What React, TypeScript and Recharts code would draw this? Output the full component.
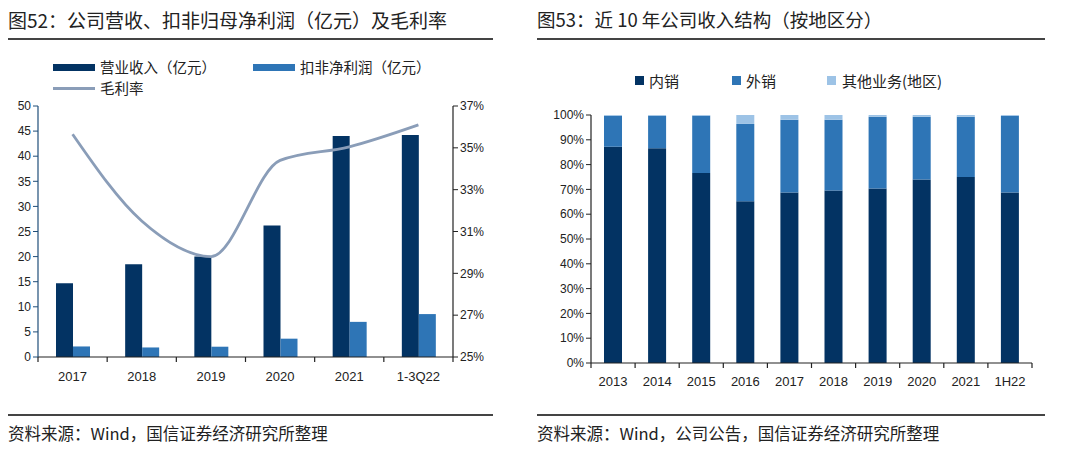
import { ComposedChart, BarChart, Bar, Line, XAxis, YAxis } from 'recharts';

// 图52 data
const periods = ['2017', '2018', '2019', '2020', '2021', '1-3Q22'];
const revenue = [14.7, 18.5, 20.0, 26.2, 44.0, 44.2];
const netProfit = [2.1, 1.9, 2.05, 3.65, 7.0, 8.55];
const grossMargin = [35.65, 31.5, 29.8, 34.4, 35.05, 36.1];
const revenueTicks = [0, 5, 10, 15, 20, 25, 30, 35, 40, 45, 50];
const marginTicks = [25, 27, 29, 31, 33, 35, 37];

// 图53 data
const years = ['2013', '2014', '2015', '2016', '2017', '2018', '2019', '2020', '2021', '1H22'];
const domestic = [87.2, 86.6, 76.6, 65.2, 68.8, 69.6, 70.4, 74.0, 75.0, 68.8];
const overseas = [12.5, 13.1, 23.1, 31.2, 29.3, 28.5, 28.9, 25.3, 24.3, 30.9];
const other = [0.3, 0.3, 0.3, 3.6, 1.9, 1.9, 0.7, 0.7, 0.7, 0.3];
const shareTicks = [0, 10, 20, 30, 40, 50, 60, 70, 80, 90, 100];

const NAVY = '#033363';
const BLUE = '#2E75B6';
const LIGHT = '#9DC3E6';
const LINE = '#8A9DB8';
const CJK = '"Noto Sans CJK SC", "Noto Sans", sans-serif';
const LATIN = '"Liberation Sans", Arial, sans-serif';

const leftData = periods.map((p, i) => ({
  period: p,
  revenue: revenue[i],
  netProfit: netProfit[i],
  margin: grossMargin[i],
}));

const rightData = years.map((y, i) => ({
  year: y,
  domestic: domestic[i],
  overseas: overseas[i],
  other: other[i],
}));

// x-axis ticks sit on category boundaries, labels in the middle
const boundaryTick = (band: number, count: number, dy: number) => (props: any) => {
  const { x, y, payload, index } = props;
  return (
    <g>
      <line x1={x - band / 2} y1={y} x2={x - band / 2} y2={y + 5} stroke="#222" strokeWidth={1.2} />
      {index === count - 1 && (
        <line x1={x + band / 2} y1={y} x2={x + band / 2} y2={y + 5} stroke="#222" strokeWidth={1.2} />
      )}
      <text x={x} y={y + dy} textAnchor="middle" fontSize={13} fill="#222" fontFamily={LATIN}>
        {payload.value}
      </text>
    </g>
  );
};

const Rule = ({ x, y, w }: { x: number; y: number; w: number }) => (
  <div style={{ position: 'absolute', left: x, top: y, width: w, height: 1.5, background: '#444' }} />
);

const Text = ({ x, y, size, children }: { x: number; y: number; size: number; children: any }) => (
  <div
    style={{
      position: 'absolute',
      left: x,
      top: y,
      fontSize: size,
      lineHeight: 1,
      fontFamily: CJK,
      color: '#222',
      whiteSpace: 'nowrap',
    }}
  >
    {children}
  </div>
);

export default function App() {
  return (
    <div style={{ position: 'fixed', left: 0, top: 0, width: 1080, height: 453, background: '#fff' }}>
      {/* left panel */}
      <Text x={8} y={10} size={19}>图52：公司营收、扣非归母净利润（亿元）及毛利率</Text>
      <Rule x={8} y={38} w={485} />

      <div style={{ position: 'absolute', left: 53, top: 64, width: 42, height: 7, background: NAVY }} />
      <Text x={100} y={60} size={14.5}>营业收入（亿元）</Text>
      <div style={{ position: 'absolute', left: 253, top: 64, width: 42, height: 7, background: BLUE }} />
      <Text x={300} y={60} size={14.5}>扣非净利润（亿元）</Text>
      <div style={{ position: 'absolute', left: 53, top: 87, width: 42, height: 3, background: LINE }} />
      <Text x={100} y={81} size={14.5}>毛利率</Text>

      <div style={{ position: 'absolute', left: 0, top: 0 }}>
        <ComposedChart
          width={540}
          height={400}
          data={leftData}
          margin={{ top: 106, right: 47, bottom: 13, left: 8 }}
          barGap={0}
        >
          <XAxis
            dataKey="period"
            height={30}
            tickLine={false}
            tickSize={0}
            tickMargin={0}
            axisLine={{ stroke: '#222', strokeWidth: 1.2 }}
            tick={boundaryTick(415 / 6, periods.length, 24)}
            interval={0}
          />
          <YAxis
            yAxisId="left"
            width={30}
            domain={[0, 50]}
            ticks={revenueTicks}
            interval={0}
            tickSize={5}
            axisLine={{ stroke: '#1F4E79', strokeWidth: 1.2 }}
            tickLine={{ stroke: '#1F4E79' }}
            tick={{ fontSize: 12, fill: '#222', fontFamily: LATIN }}
          />
          <YAxis
            yAxisId="right"
            orientation="right"
            width={40}
            domain={[25, 37]}
            ticks={marginTicks}
            interval={0}
            tickSize={5}
            axisLine={{ stroke: '#222', strokeWidth: 1.2 }}
            tickLine={{ stroke: '#222' }}
            tickFormatter={(v: number) => `${v}%`}
            tick={{ fontSize: 12, fill: '#222', fontFamily: LATIN }}
          />
          <Bar yAxisId="left" dataKey="revenue" fill={NAVY} barSize={17} isAnimationActive={false} />
          <Bar yAxisId="left" dataKey="netProfit" fill={BLUE} barSize={17} isAnimationActive={false} />
          <Line
            yAxisId="right"
            type="monotone"
            dataKey="margin"
            stroke={LINE}
            strokeWidth={2.8}
            dot={false}
            isAnimationActive={false}
          />
        </ComposedChart>
      </div>

      <Rule x={8} y={414} w={485} />
      <Text x={8} y={425} size={16.5}>资料来源：Wind，国信证券经济研究所整理</Text>

      {/* right panel */}
      <Text x={537} y={10} size={18.5}>图53：近 10 年公司收入结构（按地区分）</Text>
      <Rule x={537} y={38} w={508} />

      <div style={{ position: 'absolute', left: 635, top: 76, width: 9, height: 9, background: NAVY }} />
      <Text x={649} y={73} size={15}>内销</Text>
      <div style={{ position: 'absolute', left: 732, top: 76, width: 9, height: 9, background: BLUE }} />
      <Text x={746} y={73} size={15}>外销</Text>
      <div style={{ position: 'absolute', left: 827, top: 76, width: 9, height: 9, background: LIGHT }} />
      <Text x={842} y={73} size={15}>其他业务(地区)</Text>

      <div style={{ position: 'absolute', left: 530, top: 0 }}>
        <BarChart
          width={520}
          height={400}
          data={rightData}
          margin={{ top: 115, right: 18, bottom: 7, left: 21 }}
        >
          <XAxis
            dataKey="year"
            height={30}
            tickLine={false}
            tickSize={0}
            tickMargin={0}
            axisLine={{ stroke: '#222', strokeWidth: 1.2 }}
            tick={boundaryTick(441 / 10, years.length, 23)}
            interval={0}
          />
          <YAxis
            width={40}
            domain={[0, 100]}
            ticks={shareTicks}
            interval={0}
            tickSize={5}
            axisLine={{ stroke: '#222', strokeWidth: 1.2 }}
            tickLine={{ stroke: '#222' }}
            tickFormatter={(v: number) => `${v}%`}
            tick={{ fontSize: 12, fill: '#222', fontFamily: LATIN }}
          />
          <Bar dataKey="domestic" stackId="s" fill={NAVY} barSize={18} isAnimationActive={false} />
          <Bar dataKey="overseas" stackId="s" fill={BLUE} barSize={18} isAnimationActive={false} />
          <Bar dataKey="other" stackId="s" fill={LIGHT} barSize={18} isAnimationActive={false} />
        </BarChart>
      </div>

      <Rule x={537} y={414} w={508} />
      <Text x={537} y={425} size={16.5}>资料来源：Wind，公司公告，国信证券经济研究所整理</Text>
    </div>
  );
}
